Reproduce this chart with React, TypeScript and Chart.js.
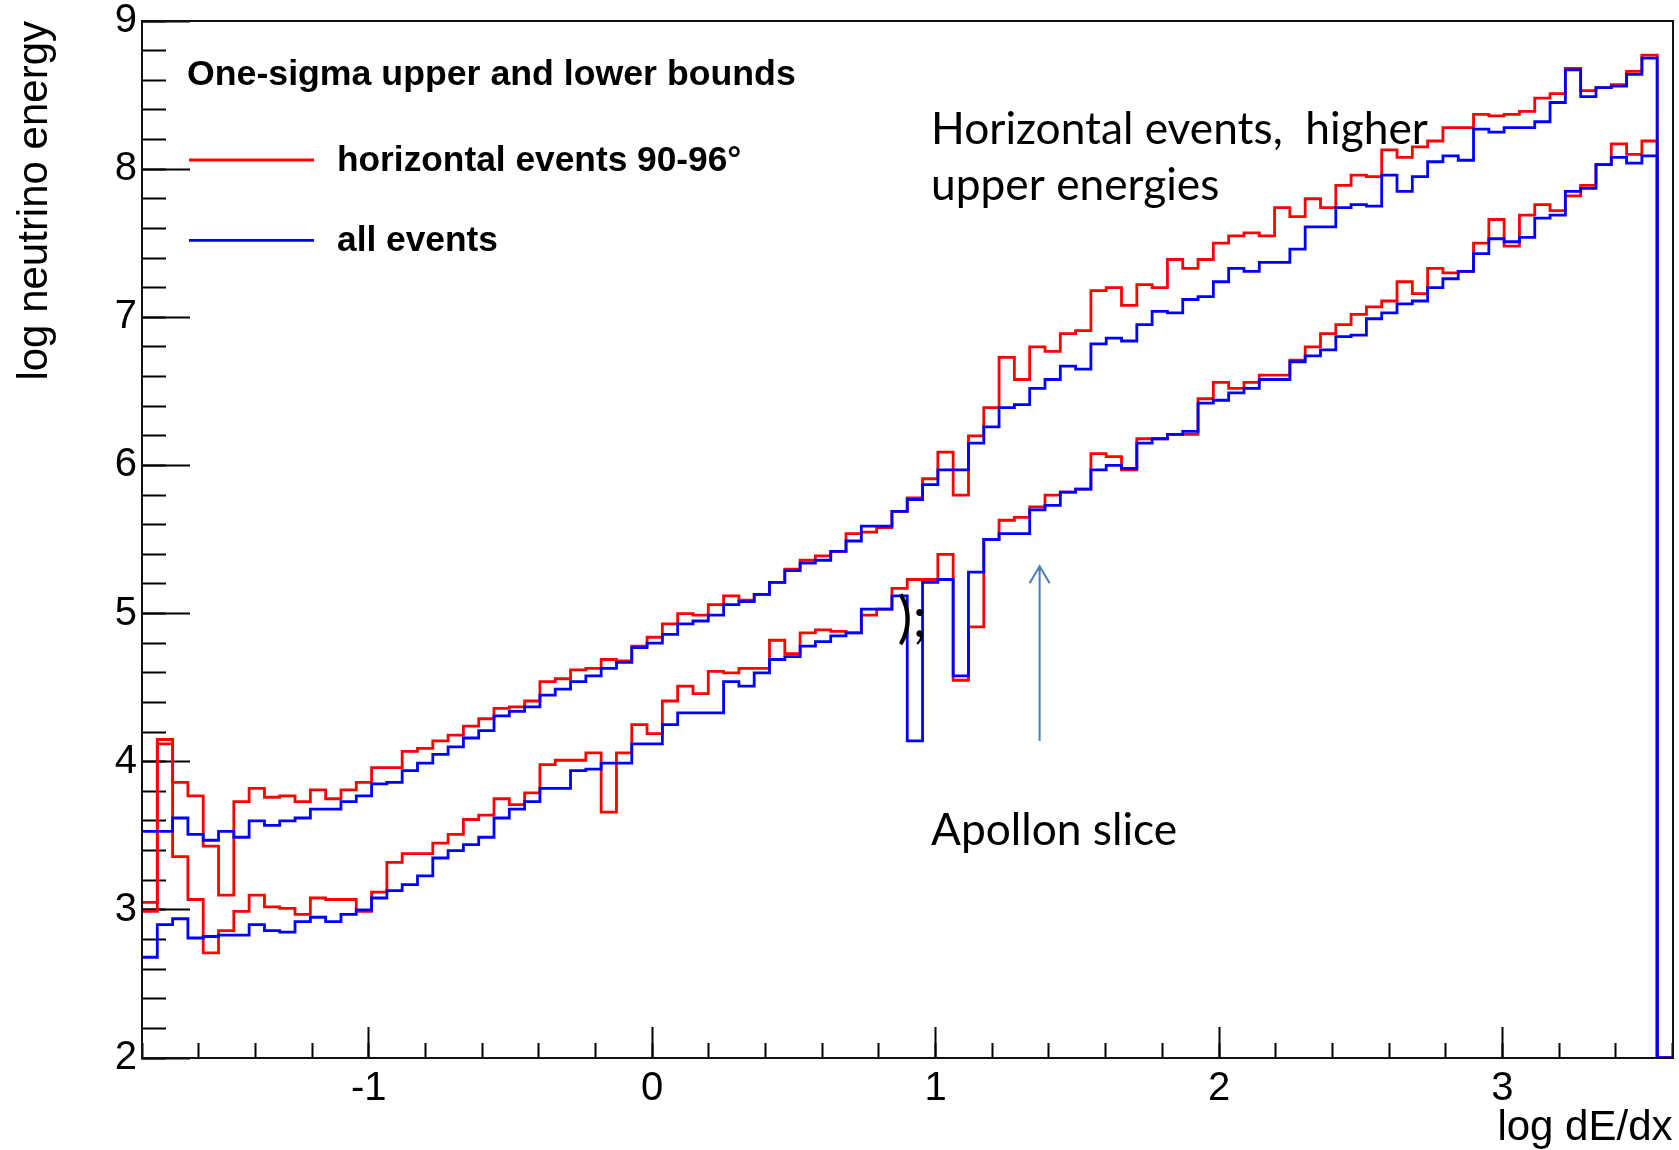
import React, { useEffect, useRef } from 'react';
import { Chart, registerables } from 'chart.js';

Chart.register(...registerables);

// ---- histogram binning (ROOT TH1: 100 bins on [-1.8, 3.6]) ----
const BIN_LOW = -1.8;
const BIN_HIGH = 3.6;
const N_BINS = 100;

// ---- one-sigma bounds, horizontal events 90-96 deg (red) ----
const redUpper = [
  3.05, 4.15, 3.86, 3.77, 3.43, 3.10, 3.73, 3.82, 3.76, 3.77,
  3.73, 3.81, 3.75, 3.81, 3.86, 3.96, 3.96, 4.07, 4.09, 4.14,
  4.18, 4.24, 4.29, 4.36, 4.37, 4.41, 4.54, 4.56, 4.62, 4.63,
  4.69, 4.68, 4.78, 4.84, 4.93, 5.00, 4.99, 5.06, 5.12, 5.09,
  5.13, 5.21, 5.30, 5.36, 5.39, 5.42, 5.54, 5.55, 5.58, 5.69,
  5.78, 5.91, 6.09, 5.80, 6.20, 6.39, 6.73, 6.58, 6.80, 6.77,
  6.89, 6.91, 7.18, 7.20, 7.08, 7.22, 7.20, 7.39, 7.33, 7.39,
  7.50, 7.55, 7.57, 7.55, 7.74, 7.68, 7.80, 7.74, 7.89, 7.96,
  7.95, 8.13, 8.08, 8.15, 8.19, 8.28, 8.28, 8.37, 8.36, 8.37,
  8.39, 8.48, 8.51, 8.68, 8.53, 8.55, 8.57, 8.66, 8.77, 2.0,
];
const redLower = [
  2.99, 4.12, 3.36, 3.07, 2.71, 2.86, 2.99, 3.10, 3.02, 3.01,
  2.97, 3.08, 3.07, 3.07, 2.99, 3.12, 3.32, 3.38, 3.38, 3.45,
  3.51, 3.61, 3.64, 3.75, 3.71, 3.79, 3.98, 4.01, 4.01, 4.06,
  3.66, 4.06, 4.25, 4.19, 4.41, 4.51, 4.46, 4.61, 4.60, 4.63,
  4.63, 4.82, 4.73, 4.87, 4.89, 4.88, 4.87, 4.99, 5.03, 5.17,
  5.23, 5.23, 5.40, 4.55, 4.91, 5.50, 5.63, 5.65, 5.72, 5.80,
  5.82, 5.84, 6.08, 6.06, 5.97, 6.18, 6.18, 6.21, 6.21, 6.45,
  6.56, 6.52, 6.56, 6.61, 6.61, 6.71, 6.80, 6.89, 6.95, 7.02,
  7.07, 7.11, 7.24, 7.16, 7.33, 7.30, 7.31, 7.50, 7.66, 7.48,
  7.69, 7.76, 7.72, 7.82, 7.89, 8.03, 8.17, 8.10, 8.19, 2.0,
];

// ---- one-sigma bounds, all events (blue) ----
const blueUpper = [
  3.53, 3.53, 3.62, 3.51, 3.47, 3.53, 3.49, 3.60, 3.57, 3.60,
  3.62, 3.68, 3.68, 3.73, 3.77, 3.85, 3.86, 3.94, 3.99, 4.05,
  4.10, 4.16, 4.21, 4.31, 4.34, 4.37, 4.45, 4.49, 4.54, 4.58,
  4.63, 4.67, 4.77, 4.80, 4.86, 4.93, 4.95, 4.99, 5.06, 5.08,
  5.13, 5.21, 5.29, 5.34, 5.36, 5.42, 5.49, 5.59, 5.59, 5.69,
  5.77, 5.87, 5.97, 5.97, 6.15, 6.26, 6.39, 6.41, 6.52, 6.58,
  6.67, 6.65, 6.82, 6.86, 6.84, 6.95, 7.04, 7.03, 7.12, 7.14,
  7.24, 7.33, 7.31, 7.37, 7.37, 7.46, 7.61, 7.61, 7.74, 7.76,
  7.75, 7.96, 7.85, 7.95, 8.05, 8.09, 8.06, 8.27, 8.25, 8.28,
  8.28, 8.32, 8.45, 8.67, 8.49, 8.55, 8.56, 8.64, 8.75, 2.0,
];
const blueLower = [
  2.68, 2.90, 2.94, 2.81, 2.82, 2.83, 2.83, 2.90, 2.86, 2.85,
  2.92, 2.95, 2.92, 2.97, 3.00, 3.08, 3.13, 3.17, 3.23, 3.35,
  3.40, 3.44, 3.49, 3.62, 3.68, 3.73, 3.82, 3.82, 3.94, 3.95,
  3.99, 3.99, 4.12, 4.12, 4.25, 4.33, 4.33, 4.33, 4.54, 4.51,
  4.60, 4.69, 4.71, 4.78, 4.81, 4.85, 4.87, 5.03, 5.03, 5.12,
  4.14, 5.21, 5.23, 4.58, 5.28, 5.50, 5.54, 5.54, 5.70, 5.73,
  5.82, 5.84, 5.97, 6.00, 5.98, 6.15, 6.18, 6.21, 6.23, 6.42,
  6.44, 6.49, 6.52, 6.58, 6.58, 6.70, 6.74, 6.78, 6.87, 6.88,
  6.99, 7.03, 7.09, 7.11, 7.20, 7.26, 7.31, 7.43, 7.53, 7.51,
  7.54, 7.67, 7.69, 7.85, 7.87, 8.03, 8.08, 8.04, 8.09, 2.0,
];

// ---- axis ranges / labels ----
const Y_MIN = 2;
const Y_MAX = 9;
const X_TITLE = 'log dE/dx';
const Y_TITLE = 'log neutrino energy';
const LEGEND_TITLE = 'One-sigma upper and lower bounds';
const RED_LABEL = 'horizontal events 90-96°';
const BLUE_LABEL = 'all events';

// ---- slide annotations (data coordinates) ----
const NOTE_TOP_LINES = ['Horizontal events,  higher', 'upper energies'];
const NOTE_TOP_X = 0.984;
const NOTE_TOP_Y = [8.167, 7.792];
const NOTE_APOLLON = 'Apollon slice';
const NOTE_APOLLON_Y = 3.438;
const NOTE_STRAY = ');';
const NOTE_STRAY_X = 0.866;
const NOTE_STRAY_Y = 4.96;
const ARROW_X = 1.367;
const ARROW_FROM = 4.14;
const ARROW_TO = 5.32;

const RED = '#ff0000';
const BLUE = '#0000ff';
const FONT = '"Liberation Sans", Arial, Helvetica, sans-serif';
const NOTE_FONT = 'Lato, "Open Sans", sans-serif';

const binEdges = Array.from({ length: N_BINS + 1 }, (_, i) =>
  Math.round((BIN_LOW + ((BIN_HIGH - BIN_LOW) * i) / N_BINS) * 10000) / 10000
);

function histPoints(vals: number[]) {
  return binEdges.map((x, i) => ({ x, y: vals[Math.min(i, vals.length - 1)] }));
}

const framePlugin = {
  id: 'rootFrame',
  afterDatasetsDraw(chart: any) {
    const { ctx, chartArea: a } = chart;
    ctx.save();
    ctx.strokeStyle = '#111';
    ctx.lineWidth = 2;
    ctx.strokeRect(Math.round(a.left), Math.round(a.top), Math.round(a.right - a.left), Math.round(a.bottom - a.top));
    ctx.restore();
  },
};

const legendPlugin = {
  id: 'rootLegend',
  afterDraw(chart: any) {
    const { ctx, chartArea: a } = chart;
    const entries = [
      { label: RED_LABEL, color: RED },
      { label: BLUE_LABEL, color: BLUE },
    ];
    ctx.save();
    ctx.font = `bold 35.7px ${FONT}`;
    ctx.fillStyle = '#000';
    ctx.textBaseline = 'middle';
    ctx.textAlign = 'left';
    ctx.fillText(LEGEND_TITLE, a.left + 45, a.top + 54);
    ctx.font = `bold 35.3px ${FONT}`;
    entries.forEach((e, i) => {
      const y = a.top + 139 + i * 80.3;
      ctx.strokeStyle = e.color;
      ctx.lineWidth = 2.8;
      ctx.beginPath();
      ctx.moveTo(a.left + 47, y);
      ctx.lineTo(a.left + 172, y);
      ctx.stroke();
      ctx.fillText(e.label, a.left + 195, y + 1);
    });
    ctx.restore();
  },
};

const notesPlugin = {
  id: 'slideNotes',
  afterDraw(chart: any) {
    const { ctx } = chart;
    const xs = chart.scales.x;
    const ys = chart.scales.y;
    ctx.save();
    ctx.font = `48px ${NOTE_FONT}`;
    const w = ctx.measureText(NOTE_TOP_LINES[0]).width;
    const size = (48 * 497) / w;
    ctx.font = `${size}px ${NOTE_FONT}`;
    ctx.fillStyle = '#000';
    ctx.textAlign = 'left';
    ctx.textBaseline = 'alphabetic';
    NOTE_TOP_LINES.forEach((t, i) => {
      ctx.fillText(t, xs.getPixelForValue(NOTE_TOP_X), ys.getPixelForValue(NOTE_TOP_Y[i]));
    });
    ctx.fillText(NOTE_APOLLON, xs.getPixelForValue(NOTE_TOP_X), ys.getPixelForValue(NOTE_APOLLON_Y));
    ctx.font = `${size * 1.25}px ${NOTE_FONT}`;
    ctx.textBaseline = 'middle';
    ctx.fillText(NOTE_STRAY, xs.getPixelForValue(NOTE_STRAY_X), ys.getPixelForValue(NOTE_STRAY_Y));

    const ax = xs.getPixelForValue(ARROW_X);
    const y0 = ys.getPixelForValue(ARROW_FROM);
    const y1 = ys.getPixelForValue(ARROW_TO);
    ctx.strokeStyle = '#4A7EBB';
    ctx.lineWidth = 2;
    ctx.beginPath();
    ctx.moveTo(ax, y0);
    ctx.lineTo(ax, y1);
    ctx.moveTo(ax - 10, y1 + 17);
    ctx.lineTo(ax, y1);
    ctx.lineTo(ax + 10, y1 + 17);
    ctx.stroke();
    ctx.restore();
  },
};

function lineSet(label: string, vals: number[], color: string, order: number) {
  return {
    label,
    data: histPoints(vals),
    borderColor: color,
    backgroundColor: color,
    borderWidth: 2.8,
    pointRadius: 0,
    pointHoverRadius: 0,
    stepped: true,
    tension: 0,
    fill: false,
    order,
    xAxisID: 'x',
    yAxisID: 'y',
  };
}

export default function App() {
  const ref = useRef<HTMLCanvasElement>(null);

  useEffect(() => {
    if (!ref.current) return;
    const tickFont = { family: FONT, size: 40 };
    const titleFont = { family: FONT, size: 42 };
    const chart = new Chart(ref.current, {
      type: 'line',
      data: {
        datasets: [
          lineSet(RED_LABEL, redUpper, RED, 1),
          lineSet(RED_LABEL, redLower, RED, 1),
          lineSet(BLUE_LABEL, blueUpper, BLUE, 0),
          lineSet(BLUE_LABEL, blueLower, BLUE, 0),
        ] as any,
      },
      options: {
        animation: false,
        responsive: false,
        maintainAspectRatio: false,
        devicePixelRatio: 1,
        events: [],
        layout: { padding: { top: 21, right: 6.5, left: 0, bottom: 0 } },
        plugins: { legend: { display: false }, tooltip: { enabled: false } },
        scales: {
          x: {
            type: 'linear',
            position: 'bottom',
            min: BIN_LOW,
            max: BIN_HIGH,
            weight: 1,
            ticks: {
              stepSize: 1,
              includeBounds: false,
              font: tickFont,
              color: '#000',
              padding: 37.5,
              maxRotation: 0,
              autoSkip: false,
            },
            grid: { drawOnChartArea: false, drawTicks: true, tickLength: -31, tickColor: '#000', tickWidth: 2 },
            border: { display: true, color: '#000', width: 2 },
            title: { display: true, text: X_TITLE, align: 'end', font: titleFont, color: '#000', padding: { top: 0, bottom: -4 } },
            afterFit: (s: any) => {
              s.height = 92;
              s.paddingLeft = 0;
              s.paddingRight = 0;
            },
          },
          xMinor: {
            type: 'linear',
            position: 'bottom',
            min: BIN_LOW,
            max: BIN_HIGH,
            weight: 0,
            ticks: { stepSize: 0.2, includeBounds: false, display: false, autoSkip: false },
            grid: { drawOnChartArea: false, drawTicks: true, tickLength: -15, tickColor: '#000', tickWidth: 2 },
            border: { display: false },
            afterFit: (s: any) => {
              s.height = 0;
              s.paddingLeft = 0;
              s.paddingRight = 0;
            },
          },
          y: {
            type: 'linear',
            position: 'left',
            min: Y_MIN,
            max: Y_MAX,
            weight: 1,
            ticks: { stepSize: 1, includeBounds: false, font: tickFont, color: '#000', padding: 53, autoSkip: false },
            grid: { drawOnChartArea: false, drawTicks: true, tickLength: -48, tickColor: '#000', tickWidth: 2 },
            border: { display: true, color: '#000', width: 2 },
            title: { display: true, text: Y_TITLE, align: 'end', font: titleFont, color: '#000', padding: { top: 10, bottom: 0 } },
            afterFit: (s: any) => {
              s.width = 142;
              s.paddingTop = 0;
              s.paddingBottom = 0;
            },
          },
          yMinor: {
            type: 'linear',
            position: 'left',
            min: Y_MIN,
            max: Y_MAX,
            weight: 0,
            ticks: { stepSize: 0.2, includeBounds: false, display: false, autoSkip: false },
            grid: { drawOnChartArea: false, drawTicks: true, tickLength: -24, tickColor: '#000', tickWidth: 2 },
            border: { display: false },
            afterFit: (s: any) => {
              s.width = 0;
              s.paddingTop = 0;
              s.paddingBottom = 0;
            },
          },
        },
      } as any,
      plugins: [framePlugin, legendPlugin, notesPlugin],
    });
    return () => chart.destroy();
  }, []);

  return (
    <div style={{ position: 'absolute', left: 0, top: 0, width: 1679, height: 1150, background: '#fff' }}>
      <canvas ref={ref} width={1679} height={1150} style={{ display: 'block', width: 1679, height: 1150 }} />
    </div>
  );
}
